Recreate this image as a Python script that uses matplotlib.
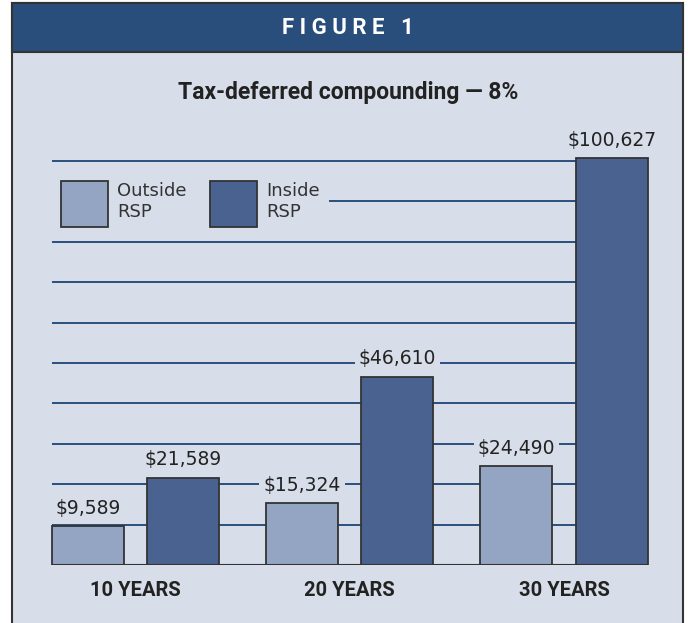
import matplotlib
matplotlib.use("Agg")
import matplotlib.pyplot as plt
from matplotlib.patches import Rectangle, Patch

# data
periods = ["10 YEARS", "20 YEARS", "30 YEARS"]
outside_rsp = [9589, 15324, 24490]
inside_rsp = [21589, 46610, 100627]
grid_values = [10000, 20000, 30000, 40000, 50000, 60000, 70000, 80000, 90000, 100000]

HEADER = "#2a4e7b"
BG = "#d7dde9"
OUT_C = "#94a4c3"
IN_C = "#4a6290"
GRID_C = "#1d4576"
EDGE = "#333333"
TEXT = "#222222"

NARROW = ["Roboto", "DejaVu Sans"]

W, H = 688, 623
fig = plt.figure(figsize=(W / 100, H / 100), dpi=100)
fig.patch.set_facecolor("white")

# frame and header
bg = fig.add_axes([0, 0, 1, 1])
bg.set_xlim(0, W)
bg.set_ylim(H, 0)
bg.axis("off")
bg.add_patch(Rectangle((12, 3), 671, 640, facecolor=BG, edgecolor=EDGE, lw=1.5))
bg.add_patch(Rectangle((12, 3), 671, 49, facecolor=HEADER, edgecolor=EDGE, lw=1.5))
bg.text(348, 28, "F I G U R E   1", color="white", fontsize=16, fontweight="bold",
        family=NARROW, ha="center", va="center")
bg.text(348, 93, "Tax-deferred compounding \u2014 8%", color=TEXT, fontsize=16.5,
        fontweight="bold", family=NARROW, ha="center", va="center")

# chart axes
left_px, right_px, top_px, base_px = 40, 660, 110, 565
x0_px, step_px = 135.5, 214.25
px_per_unit = (base_px - 161) / 100000
ax = fig.add_axes([left_px / W, (H - base_px) / H, (right_px - left_px) / W,
                   (base_px - top_px) / H])
ax.set_xlim((left_px - x0_px) / step_px, (right_px - x0_px) / step_px)
ax.set_ylim(0, (base_px - top_px) / px_per_unit)
ax.axis("off")
ax.patch.set_alpha(0)

bw = 0.336
off = 0.222
xs = list(range(len(periods)))
xo = [x - off for x in xs]
xi = [x + off for x in xs]

ax.hlines(grid_values, xo[0] - bw / 2, xi[-1] - bw / 2, color=GRID_C, lw=1.3, zorder=1)
ax.hlines(0, xo[0] - bw / 2, xi[-1] + bw / 2, color=EDGE, lw=1.5, zorder=4)

ax.bar(xo, outside_rsp, width=bw, color=OUT_C, edgecolor=EDGE, lw=1.3, zorder=3)
ax.bar(xi, inside_rsp, width=bw, color=IN_C, edgecolor=EDGE, lw=1.3, zorder=3)

lab_box = dict(facecolor=BG, edgecolor="none", pad=3)
for x, v in zip(xo + xi, outside_rsp + inside_rsp):
    ax.annotate(f"${v:,}", (x, v), xytext=(0, 6), textcoords="offset points",
                ha="center", va="bottom", fontsize=13.5, color=TEXT,
                bbox=lab_box, zorder=5)

for x, name in zip(xs, periods):
    ax.text(x, -25 / px_per_unit, name, ha="center", va="center",
            fontsize=14.5, fontweight="bold", family=NARROW, color=TEXT)

# legend
handles = [Patch(facecolor=OUT_C, edgecolor=EDGE, lw=1.3),
           Patch(facecolor=IN_C, edgecolor=EDGE, lw=1.3)]
leg = ax.legend(handles, ["Outside\nRSP", "Inside\nRSP"], ncol=2,
                loc="upper left", bbox_to_anchor=((52 - left_px) / (right_px - left_px),
                                                  1 - (172 - top_px) / (base_px - top_px)),
                frameon=True, fontsize=13, handlelength=2.6, handleheight=3.5,
                handletextpad=0.5, columnspacing=1.3, borderpad=0.5, borderaxespad=0,
                labelcolor="#333333")
leg.get_frame().set_facecolor(BG)
leg.get_frame().set_edgecolor("none")
leg.get_frame().set_alpha(1)
leg.get_frame().set_boxstyle("square", pad=0)
leg.set_zorder(6)

fig.savefig("out.png", dpi=100, facecolor=fig.get_facecolor())
